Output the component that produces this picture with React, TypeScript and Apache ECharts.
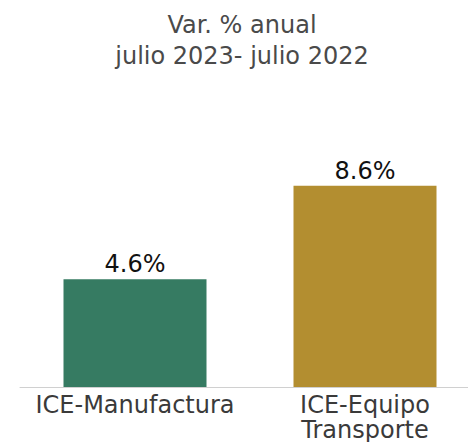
import React, { useEffect, useRef } from "react";
import * as echarts from "echarts";

const categories = ["ICE-Manufactura", "ICE-Equipo\nTransporte"];
const values = [4.6, 8.6];
const barColors = ["#367b62", "#b38e30"];
const titleLines = ["Var. % anual", "julio 2023- julio 2022"];

export default function App() {
  const ref = useRef<HTMLDivElement>(null);
  useEffect(() => {
    if (!ref.current) return;
    const chart = echarts.init(ref.current, null, { renderer: "svg" });
    const font = "DejaVu Sans";
    chart.setOption({
      animation: false,
      title: {
        text: titleLines.join("\n"),
        left: 237,
        textAlign: "center",
        top: 4,
        textStyle: {
          fontFamily: font,
          fontSize: 24,
          fontWeight: "normal",
          color: "#4a4a4a",
          lineHeight: 31,
        },
      },
      grid: { left: 20, right: 10, top: 153, bottom: 55, containLabel: false },
      xAxis: {
        type: "category",
        data: categories,
        axisLine: { show: true, lineStyle: { color: "#d0d0d0", width: 1 } },
        axisTick: { show: false },
        axisLabel: {
          interval: 0,
          margin: 5,
          fontFamily: font,
          fontSize: 24,
          color: "#3a3a3a",
          lineHeight: 25,
        },
      },
      yAxis: {
        type: "value",
        min: 0,
        max: 10,
        show: false,
        splitLine: { show: false },
      },
      series: [
        {
          type: "bar",
          barWidth: 143,
          data: values.map((v, i) => ({ value: v, itemStyle: { color: barColors[i] } })),
          label: {
            show: true,
            position: "top",
            distance: 3,
            formatter: (p: any) => p.value.toFixed(1) + "%",
            fontFamily: font,
            fontSize: 24,
            color: "#111111",
          },
        },
      ],
    });
    return () => chart.dispose();
  }, []);
  return (
    <div style={{ position: "fixed", left: 0, top: 0, width: 468, height: 442, overflow: "hidden", background: "#fff" }}>
      <div ref={ref} style={{ width: 490, height: 442 }} />
    </div>
  );
}
